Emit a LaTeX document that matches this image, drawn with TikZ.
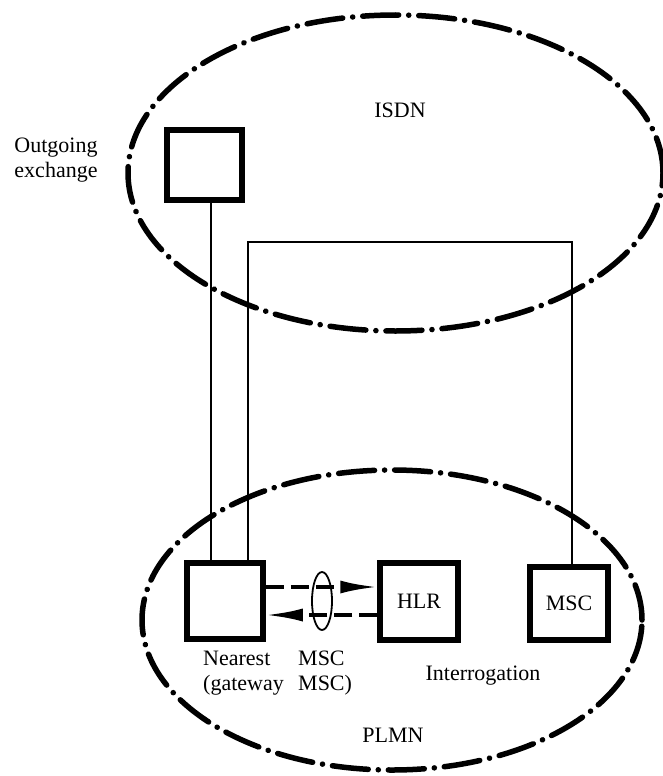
\documentclass[tikz,border=0pt]{standalone}
\usepackage{fontspec}
\setmainfont{Liberation Serif}
\usetikzlibrary{shapes.geometric,arrows.meta}
\begin{document}
\begin{tikzpicture}[x=1pt,y=-1pt,
  netarea/.style={ellipse,draw,line width=5.5pt,line cap=round,
    dash pattern=on 36pt off 10pt on 0.1pt off 10pt,inner sep=0pt},
  unit/.style={draw,line width=5.5pt,inner sep=0pt,fill=white,font=\fontsize{22}{25}\selectfont},
  link/.style={line width=1.8pt},
  sig/.style={line width=3.5pt,dash pattern=on 18pt off 7pt,
    -{Latex[length=37pt,width=13pt]}},
  lbl/.style={font=\fontsize{22}{25}\selectfont,inner sep=0pt,align=left}]
\useasboundingbox (0,0) rectangle (663,776);
% network areas
\node[netarea,minimum width=535pt,minimum height=316pt] (isdn) at (395.5,173) {};
\node[netarea,minimum width=500pt,minimum height=300pt] (plmn) at (392,620) {};
\node[lbl] (isdnl) at (400,110) {ISDN};
\node[lbl] (plmnl) at (393,735) {PLMN};
% units
\node[unit,minimum width=75pt,minimum height=70pt] (out) at (204.5,165) {};
\node[unit,minimum width=76pt,minimum height=76pt] (near) at (225,601) {};
\node[unit,minimum width=78pt,minimum height=77pt] (hlr) at (419,601.5) {HLR};
\node[unit,minimum width=78pt,minimum height=73pt] (msc) at (569,603.5) {MSC};
% labels
\node[lbl,align=center] (outl) at (56,160) {Outgoing\\exchange};
\node[lbl,anchor=north west] (nearl) at (203,651) {Nearest\\(gateway};
\node[lbl,anchor=north west] (mscl) at (298,651) {MSC\\MSC)};
\node[lbl] (intl) at (483,676) {Interrogation};
% connections
\coordinate (bend) at (0,242);
\draw[link] ([xshift=6.5pt]out.south) -- ([xshift=6.5pt]out.south |- near.north);
\draw[link] ([xshift=23pt]near.north) |- ([xshift=3pt]msc.north |- bend) -- ([xshift=3pt]msc.north);
% signalling
\draw[sig] (near.east |- 0,587) -- (hlr.west |- 0,587);
\draw[sig] (hlr.west |- 0,615) -- (near.east |- 0,615);
\node[ellipse,draw,line width=1.8pt,minimum width=20pt,minimum height=58pt,inner sep=0pt] (lens) at (322,601) {};
\end{tikzpicture}
\end{document}
